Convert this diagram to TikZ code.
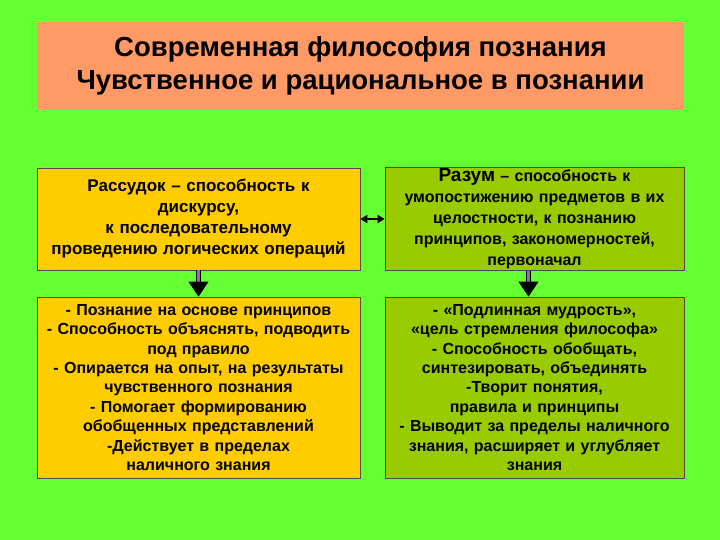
\documentclass[tikz,border=0pt]{standalone}
\usepackage{fontspec}
\setmainfont{Liberation Sans}
\usetikzlibrary{arrows.meta}
\definecolor{bg}{HTML}{66FF33}
\definecolor{ttl}{HTML}{FF9966}
\definecolor{lbox}{HTML}{FFCC00}
\definecolor{rbox}{HTML}{99CC00}
\begin{document}
\begin{tikzpicture}[x=1pt,y=-1pt,
  bx/.style={draw=black!70,line width=0.8pt,inner sep=1pt,align=center,font=\bfseries\fontsize{17}{21}\selectfont},
  darr/.style={draw=black,double=black!50,double distance=2.5pt,line width=0.8pt,-{Triangle[width=20pt,length=15pt]}}]
\fill[bg] (0,0) rectangle (720,540);
\node[fill=ttl,minimum width=647pt,minimum height=88pt,align=center,font=\bfseries\fontsize{27.5}{33}\selectfont] (t) at (360.5,66) {Современная философия познания\\Чувственное и рациональное в познании};
\node[bx,fill=lbox,minimum width=323pt,minimum height=102pt,text width=321pt] (a) at (198.5,219) {Рассудок – способность к\\дискурсу,\\к последовательному\\проведению логических операций};
\node[bx,fill=rbox,minimum width=299pt,minimum height=102pt,text width=297pt,font=\bfseries\fontsize{16}{21}\selectfont] (b) at (534.5,219) {{\fontsize{19}{21}\selectfont Разум} – способность к\\умопостижению предметов в их\\целостности, к познанию\\принципов, закономерностей,\\первоначал};
\node[bx,fill=lbox,minimum width=323pt,minimum height=181pt,text width=321pt,font=\bfseries\fontsize{16}{19.4}\selectfont] (c) at (198.5,387.5) {- Познание на основе принципов\\- Способность объяснять, подводить\\под правило\\- Опирается на опыт, на результаты\\чувственного познания\\- Помогает формированию\\обобщенных представлений\\-Действует в пределах\\наличного знания};
\node[bx,fill=rbox,minimum width=299pt,minimum height=181pt,text width=297pt,font=\bfseries\fontsize{16}{19.4}\selectfont] (d) at (534.5,387.5) {- «Подлинная мудрость»,\\«цель стремления философа»\\- Способность обобщать,\\синтезировать, объединять\\-Творит понятия,\\правила и принципы\\- Выводит за пределы наличного\\знания, расширяет и углубляет\\знания};
\draw[darr] (a.south) -- (c.north);
\draw[darr] ([xshift=-6pt]b.south) -- ([xshift=-6pt]d.north);
\draw[line width=2pt,{Triangle[width=8pt,length=7pt]}-{Triangle[width=8pt,length=7pt]}] (a.east) -- (b.west);
\end{tikzpicture}
\end{document}
